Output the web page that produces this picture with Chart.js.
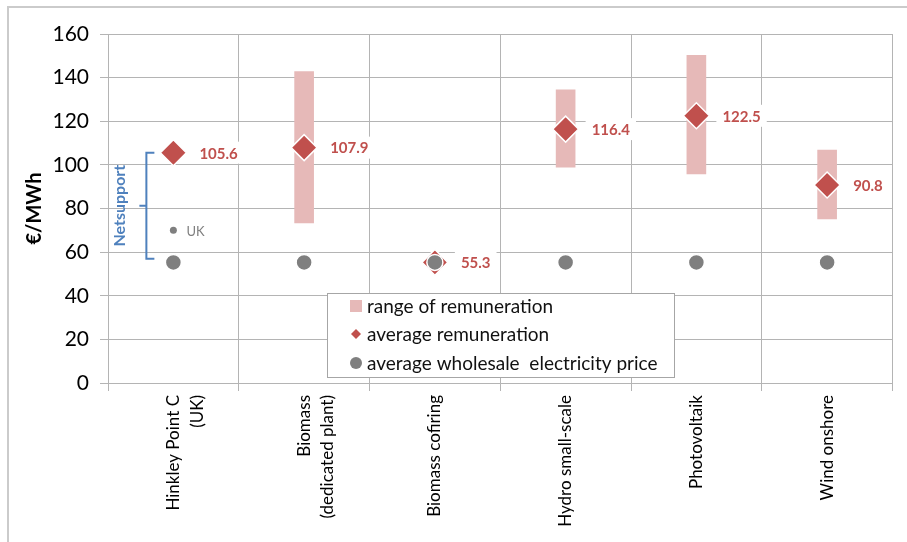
<!DOCTYPE html>
<html lang="en">
<head>
  <meta charset="UTF-8" />
  <title>Remuneration vs. wholesale electricity price</title>
  <script src="https://cdn.jsdelivr.net/npm/chart.js"></script>
  <style>
    * { margin: 0; padding: 0; box-sizing: border-box; }
    body { background: #fff; width: 907px; height: 542px; overflow: hidden; }
    #wrap { position: relative; width: 907px; height: 542px; }
    #frame {
      position: absolute; left: 7px; top: 6px; right: 0; bottom: 0;
      border-top: 2px solid #cbcbcb; border-left: 2px solid #cbcbcb;
    }
    #chart { position: absolute; left: 0; top: 0; }
  </style>
</head>
<body>
  <div id="wrap">
    <div id="frame"></div>
    <canvas id="chart" width="907" height="542"></canvas>
  </div>

  <script>
    // data
    const categories = [
      ['Hinkley Point C', '(UK)'],
      ['Biomass', '(dedicated plant)'],
      'Biomass cofiring',
      'Hydro small-scale',
      'Photovoltaik',
      'Wind onshore'
    ];
    const rangeLow = [null, 73.4, null, 99.0, 95.8, 75.2];
    const rangeHigh = [null, 142.8, null, 134.4, 150.2, 106.8];
    const avgRemuneration = [105.6, 107.9, 55.3, 116.4, 122.5, 90.8];
    const wholesalePrice = [55.3, 55.3, 55.3, 55.3, 55.3, 55.3];
    const ukPrice = [70, null, null, null, null, null];
    const netsupportSpan = [57, 105.6];
    const yMin = 0, yMax = 160, yStep = 20;

    const legendItems = ['range of remuneration', 'average remuneration', 'average wholesale  electricity price'];

    const PINK = '#e6b9b8';
    const RED = '#c0504d';
    const GREY = '#7f7f7f';
    const BLUE = '#4f81bd';
    const GRID = '#b4b4b4';
    const FONT = 'Lato, "Liberation Sans", sans-serif';

    const rangeData = rangeLow.map((lo, i) => lo == null ? null : [lo, rangeHigh[i]]);

    const extras = {
      id: 'extras',
      afterDatasetsDraw(chart) {
        const { ctx, scales: { x, y } } = chart;
        ctx.save();

        // value labels next to the diamonds
        const meta = chart.getDatasetMeta(1);
        ctx.font = 'bold 15px ' + FONT;
        ctx.textBaseline = 'middle';
        ctx.textAlign = 'left';
        meta.data.forEach((pt, i) => {
          const txt = avgRemuneration[i].toFixed(1);
          const w = ctx.measureText(txt).width;
          const tx = pt.x + 26;
          ctx.fillStyle = '#fff';
          ctx.fillRect(tx - 6, pt.y - 11, w + 12, 22);
          ctx.fillStyle = RED;
          ctx.fillText(txt, tx, pt.y + 1);
        });

        // UK label
        const uk = chart.getDatasetMeta(3).data[0];
        ctx.font = '13px ' + FONT;
        ctx.fillStyle = GREY;
        ctx.fillText('UK', uk.x + 13, uk.y + 1);

        // Netsupport bracket
        const xc = x.getPixelForValue(0);
        const yt = y.getPixelForValue(netsupportSpan[1]);
        const yb = y.getPixelForValue(netsupportSpan[0]);
        const ym = (yt + yb) / 2;
        const bx = xc - 27;
        ctx.strokeStyle = BLUE;
        ctx.lineWidth = 2;
        ctx.beginPath();
        ctx.moveTo(bx + 8, yt);
        ctx.lineTo(bx, yt);
        ctx.lineTo(bx, yb);
        ctx.lineTo(bx + 8, yb);
        ctx.moveTo(bx, ym);
        ctx.lineTo(bx - 7, ym);
        ctx.stroke();

        ctx.translate(xc - 55, ym);
        ctx.rotate(-Math.PI / 2);
        ctx.font = 'bold 16px ' + FONT;
        ctx.fillStyle = BLUE;
        ctx.textAlign = 'center';
        ctx.fillText('Netsupport', 0, 1);
        ctx.restore();
      },
      afterDraw(chart) {
        // legend box inside the plot
        const { ctx, chartArea } = chart;
        const lx = chartArea.left + 219;
        const ly = chartArea.top + 259;
        ctx.save();
        ctx.fillStyle = '#fff';
        ctx.fillRect(lx, ly, 347, 84);
        ctx.strokeStyle = '#a6a6a6';
        ctx.lineWidth = 1;
        ctx.strokeRect(lx + 0.5, ly + 0.5, 347, 84);

        const mx = lx + 29;
        const rows = [ly + 13, ly + 41, ly + 70];
        // square
        ctx.fillStyle = PINK;
        ctx.fillRect(mx - 6, rows[0] - 6, 12, 12);
        // diamond
        ctx.fillStyle = RED;
        ctx.beginPath();
        ctx.moveTo(mx, rows[1] - 5);
        ctx.lineTo(mx + 5, rows[1]);
        ctx.lineTo(mx, rows[1] + 5);
        ctx.lineTo(mx - 5, rows[1]);
        ctx.closePath();
        ctx.fill();
        // circle
        ctx.fillStyle = GREY;
        ctx.beginPath();
        ctx.arc(mx, rows[2], 6, 0, Math.PI * 2);
        ctx.fill();

        ctx.font = '19px ' + FONT;
        ctx.fillStyle = '#111';
        ctx.textBaseline = 'middle';
        ctx.textAlign = 'left';
        legendItems.forEach((t, i) => ctx.fillText(t, lx + 40, rows[i] + 1));
        ctx.restore();
      }
    };

    new Chart(document.getElementById('chart'), {
      type: 'bar',
      data: {
        labels: categories,
        datasets: [
          {
            label: legendItems[0],
            data: rangeData,
            backgroundColor: PINK,
            barThickness: 19,
            order: 4
          },
          {
            type: 'line',
            label: legendItems[1],
            data: avgRemuneration,
            showLine: false,
            pointStyle: 'rectRot',
            pointRadius: 13,
            pointBackgroundColor: RED,
            pointBorderColor: '#fff',
            pointBorderWidth: 1.5,
            order: 3
          },
          {
            type: 'line',
            label: legendItems[2],
            data: wholesalePrice,
            showLine: false,
            pointStyle: 'circle',
            pointRadius: 8,
            pointBackgroundColor: GREY,
            pointBorderColor: '#fff',
            pointBorderWidth: 1.5,
            order: 2
          },
          {
            type: 'line',
            label: 'UK',
            data: ukPrice,
            showLine: false,
            pointStyle: 'circle',
            pointRadius: 3.5,
            pointBackgroundColor: GREY,
            pointBorderWidth: 0,
            order: 1
          }
        ]
      },
      options: {
        responsive: false,
        animation: false,
        layout: { padding: { top: 34, right: 11, left: 0, bottom: 0 } },
        plugins: {
          legend: { display: false },
          tooltip: { enabled: false }
        },
        scales: {
          x: {
            offset: true,
            grid: { offset: true, color: GRID, tickLength: 8 },
            border: { color: GRID },
            ticks: {
              color: '#000',
              font: { family: FONT, size: 17, lineHeight: 1.4 },
              minRotation: 90,
              maxRotation: 90,
              padding: 4
            },
            afterFit(scale) { scale.height = 159; }
          },
          y: {
            min: yMin,
            max: yMax,
            grid: { color: GRID, tickLength: 8 },
            border: { color: GRID },
            ticks: {
              stepSize: yStep,
              color: '#000',
              font: { family: FONT, size: 21 },
              padding: 11
            },
            title: {
              display: true,
              text: '€/MWh',
              color: '#000',
              font: { family: FONT, size: 20, weight: 'bold' },
              padding: { top: 23, bottom: 0 }
            },
            afterFit(scale) { scale.width = 108; }
          }
        }
      },
      plugins: [extras]
    });
  </script>
</body>
</html>
